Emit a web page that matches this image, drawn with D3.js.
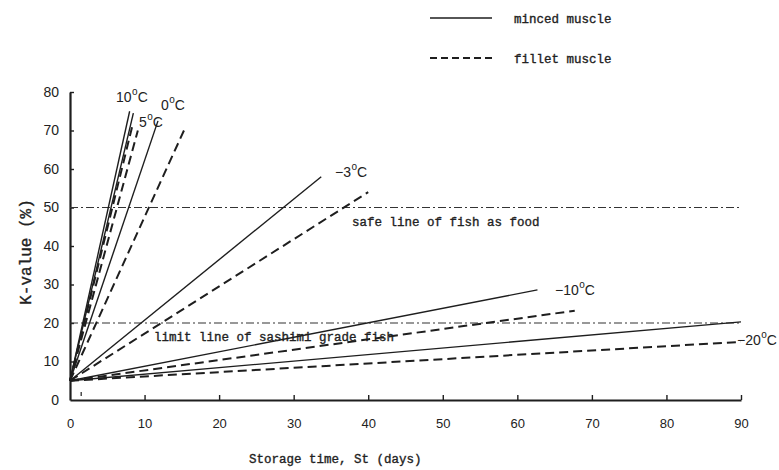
<!DOCTYPE html>
<html>
<head>
<meta charset="utf-8">
<script src="https://cdn.jsdelivr.net/npm/d3@7"></script>
<style>
  html, body { margin: 0; padding: 0; background: #fff; }
  svg { display: block; }
  .mono { font-family: "Liberation Mono", "Courier New", monospace; font-size: 12.5px; fill: #222; stroke: #222; stroke-width: 0.35px; }
  .num { font-family: "Liberation Sans", Arial, sans-serif; fill: #222; }
</style>
</head>
<body>
<svg id="chart" width="779" height="470"></svg>
<script>
// K-value (%) of fish muscle against storage time, by storage temperature
const xTicks = [0, 10, 20, 30, 40, 50, 60, 70, 80, 90];
const yTicks = [0, 10, 20, 30, 40, 50, 60, 70, 80];
const minorXTicks = [1.5];

const temperatures = ["10", "5", "0", "\u22123", "\u221210", "\u221220"];
const startDay = 0;
const startK = 5;
// minced muscle: end point (days, K-value) of each straight line
const mincedEndDay = [8.0, 8.5, 11.8, 33.7, 62.7, 90];
const mincedEndK   = [75.0, 74.5, 72.5, 58.0, 28.6, 20.3];
// fillet muscle
const filletEndDay = [8.4, 9.1, 15.4, 40.0, 67.7, 90];
const filletEndK   = [71.5, 70.0, 70.5, 54.0, 23.2, 15.1];

// reference levels
const refLevels = [50, 20];
const refLabels = ["safe line of fish as food", "limit line of sashimi grade fish"];

const legendLabels = ["minced muscle", "fillet muscle"];

// ---------------------------------------------------------------
const svg = d3.select("#chart");
const ink = "#1e1e1e";

const x = d3.scaleLinear().domain([0, 90]).range([70, 741]);
const y = d3.scaleLinear().domain([0, 80]).range([400, 92]);

// axes
const xAxis = d3.axisBottom(x).tickValues(xTicks).tickSize(-5).tickPadding(19).tickSizeOuter(0);
const gx = svg.append("g").attr("transform", `translate(0,${y(0)})`).call(xAxis);
gx.select(".domain").attr("stroke", ink).attr("stroke-width", 2.2);
gx.selectAll(".tick line").attr("stroke", ink).attr("stroke-width", 1.4);
gx.selectAll(".tick text").attr("class", "num").attr("font-size", 13).attr("fill", "#222");

const yAxis = d3.axisLeft(y).tickValues(yTicks).tickSize(-4).tickPadding(11).tickSizeOuter(0);
const gy = svg.append("g").attr("transform", `translate(${x(0)},0)`).call(yAxis);
gy.select(".domain").attr("stroke", ink).attr("stroke-width", 2.2);
gy.selectAll(".tick line").attr("stroke", ink).attr("stroke-width", 1.4);
gy.selectAll(".tick text").attr("class", "num").attr("font-size", 14).attr("fill", "#222");
gy.selectAll(".tick").filter(d => d === 0).select("line").remove();
gx.selectAll(".tick").filter(d => d === 0).select("line").remove();

// short minor mark near the origin
svg.selectAll("line.minor").data(minorXTicks).join("line")
  .attr("class", "minor")
  .attr("x1", d => x(d)).attr("x2", d => x(d))
  .attr("y1", y(0) - 8).attr("y2", y(0) - 4)
  .attr("stroke", ink).attr("stroke-width", 1.2);

// axis titles
svg.append("text").attr("class", "mono")
  .attr("x", 249).attr("y", 463)
  .text("Storage time, St (days)");

svg.append("text").attr("class", "mono")
  .style("font-size", "16px")
  .attr("transform", "translate(31,252) rotate(-90)")
  .attr("text-anchor", "middle")
  .text("K-value (%)");

// reference lines
svg.selectAll("line.ref").data(refLevels).join("line")
  .attr("class", "ref")
  .attr("x1", x(0)).attr("x2", x(90))
  .attr("y1", d => y(d)).attr("y2", d => y(d))
  .attr("stroke", "#333").attr("stroke-width", 1.2)
  .attr("stroke-dasharray", "8,3,2,3");

const refTextPos = [[352, 226], [154, 341]];
svg.selectAll("text.reflabel").data(refLabels).join("text")
  .attr("class", "reflabel mono")
  .attr("x", (d, i) => refTextPos[i][0])
  .attr("y", (d, i) => refTextPos[i][1])
  .text(d => d);

// series lines
const line = d3.line().x(d => x(d[0])).y(d => y(d[1]));

const minced = temperatures.map((t, i) => [[startDay, startK], [mincedEndDay[i], mincedEndK[i]]]);
const fillet = temperatures.map((t, i) => [[startDay, startK], [filletEndDay[i], filletEndK[i]]]);

svg.append("g").selectAll("path").data(fillet).join("path")
  .attr("d", line).attr("fill", "none")
  .attr("stroke", ink).attr("stroke-width", 2)
  .attr("stroke-dasharray", "9,5");

svg.append("g").selectAll("path").data(minced).join("path")
  .attr("d", line).attr("fill", "none")
  .attr("stroke", ink).attr("stroke-width", 1.4);

// temperature labels, with a raised "o" for degrees
const tempLabelPos = [[116, 102], [139, 127], [161, 110], [335, 177], [555, 295], [737, 345]];
const tl = svg.append("g").selectAll("text").data(temperatures).join("text")
  .attr("class", "num").attr("font-size", 14)
  .attr("x", (d, i) => tempLabelPos[i][0])
  .attr("y", (d, i) => tempLabelPos[i][1]);
tl.append("tspan").text(d => d);
tl.append("tspan").attr("font-size", 10).attr("dy", -7).attr("dx", 0.5).text("o");
tl.append("tspan").attr("dy", 7).text("C");

// legend
const legend = svg.append("g");
const legendRows = [[18, null], [58, "7,4"]];
legend.selectAll("line").data(legendLabels).join("line")
  .attr("x1", 430).attr("x2", 492)
  .attr("y1", (d, i) => legendRows[i][0]).attr("y2", (d, i) => legendRows[i][0])
  .attr("stroke", ink).attr("stroke-width", (d, i) => i ? 2 : 1.6)
  .attr("stroke-dasharray", (d, i) => legendRows[i][1]);
legend.selectAll("text").data(legendLabels).join("text")
  .attr("class", "mono")
  .attr("x", 514).attr("y", (d, i) => legendRows[i][0] + 5)
  .text(d => d);
</script>
</body>
</html>
